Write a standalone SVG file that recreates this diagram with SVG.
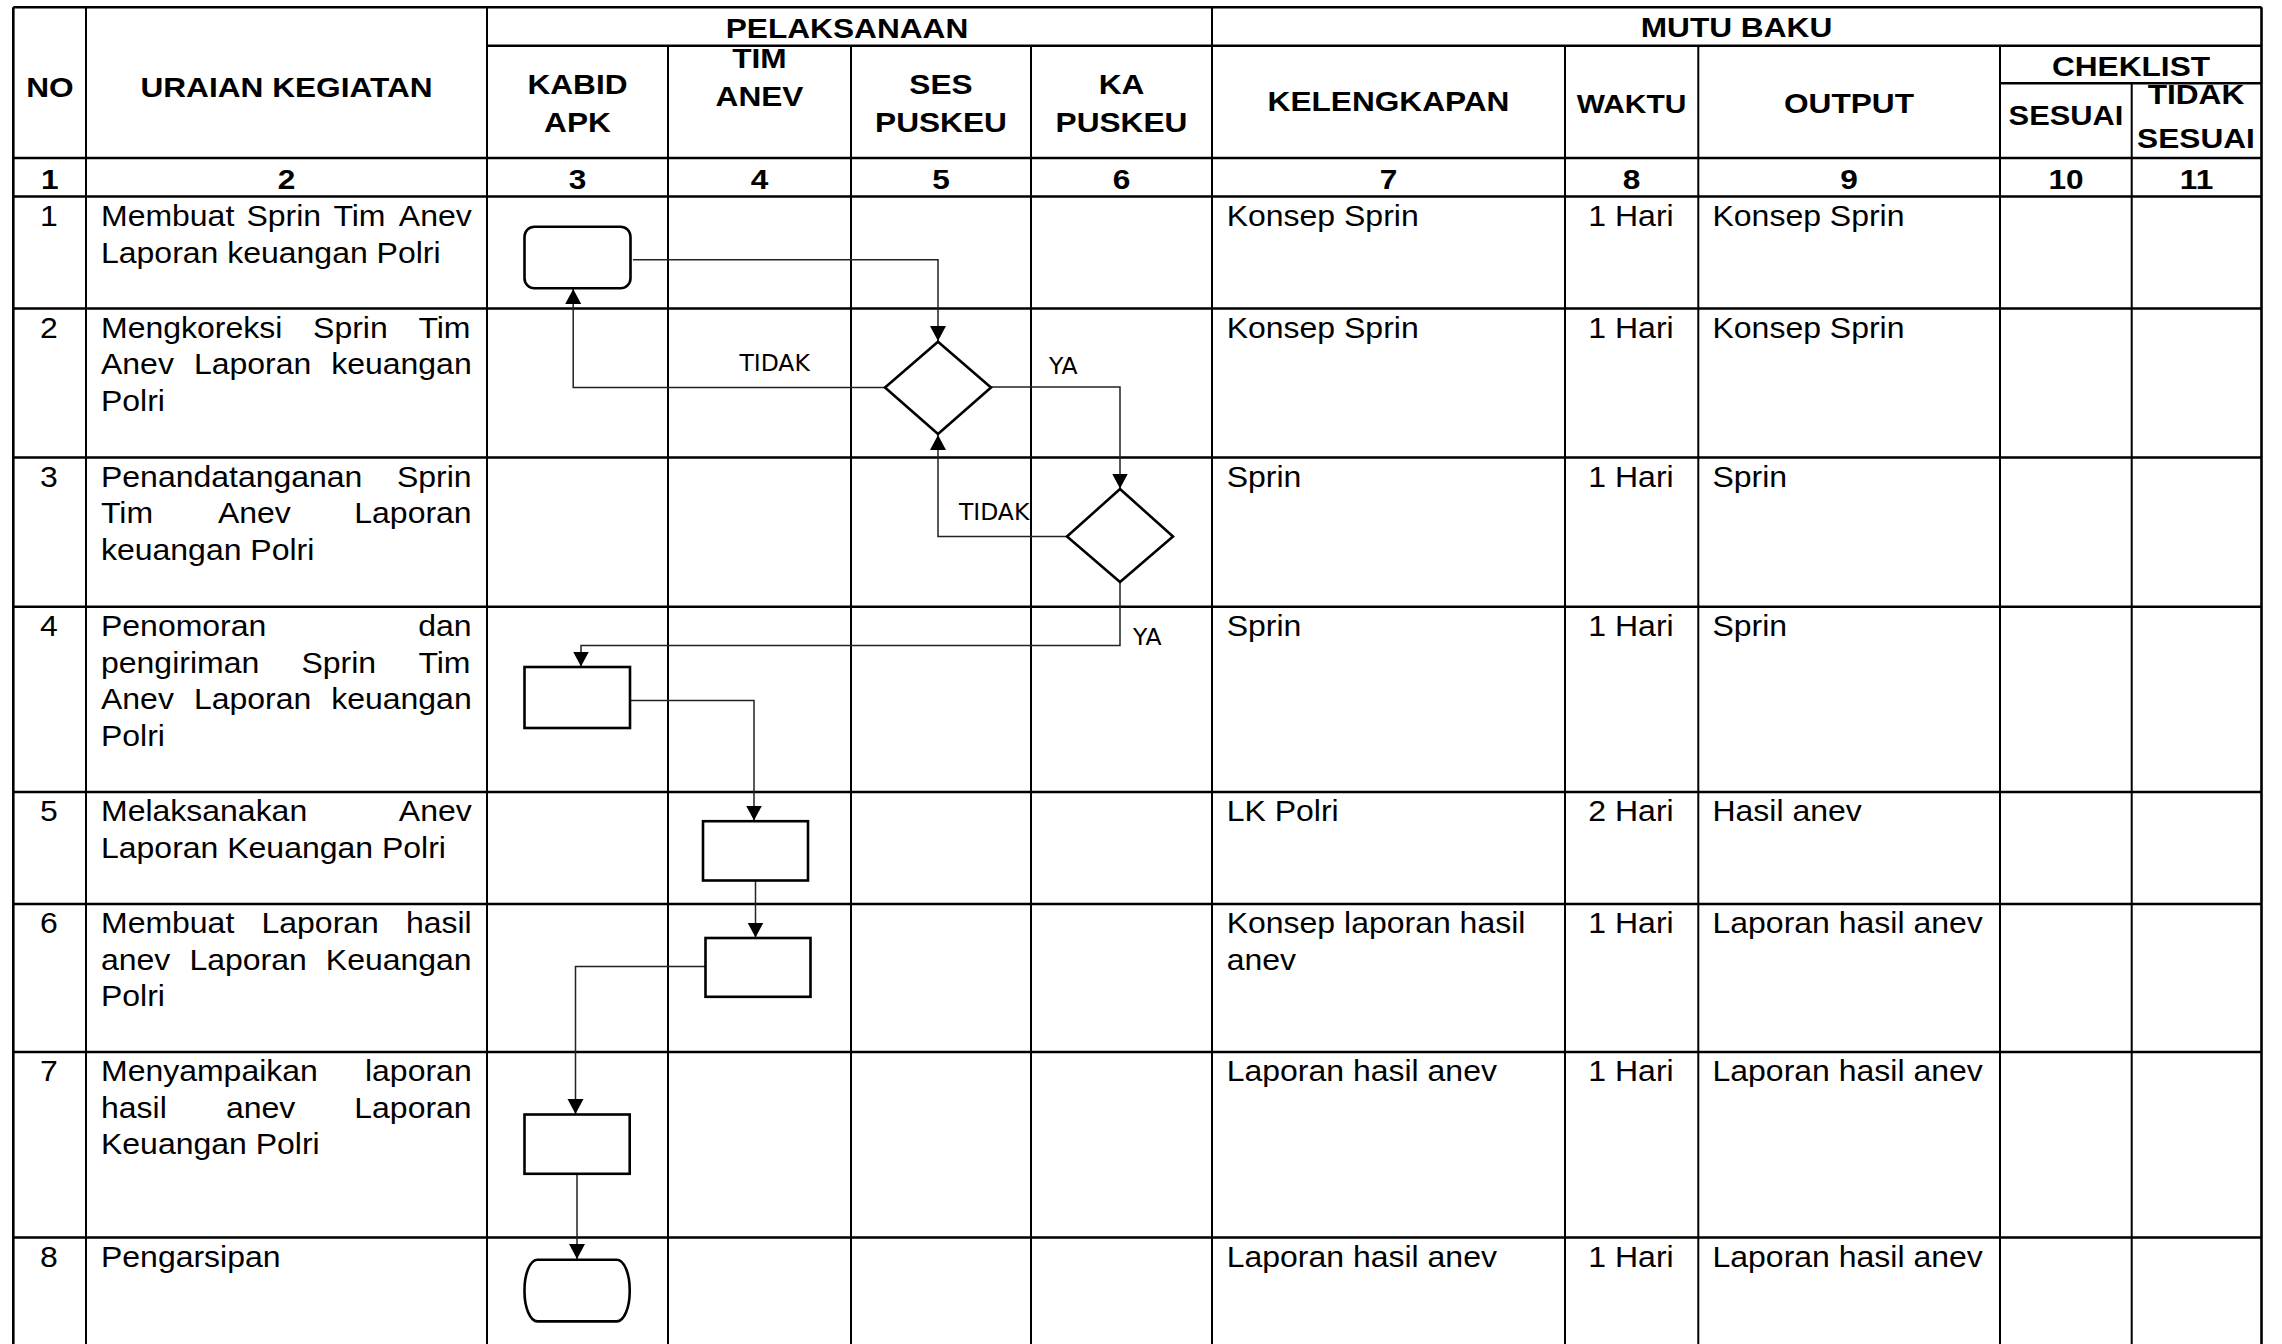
<svg xmlns="http://www.w3.org/2000/svg" width="2282" height="1344" viewBox="0 0 2282 1344">
<style>
.bg{fill:#fff}
.gh{stroke:#000;stroke-width:2.6;fill:none}
.gv{stroke:#000;stroke-width:2;fill:none}
.h{font-family:"Liberation Sans",Arial,sans-serif;font-weight:bold;font-size:28px;fill:#000;text-anchor:middle}
.t{font-family:"Liberation Sans",Arial,sans-serif;font-size:29px;fill:#000}
.c{text-anchor:middle}
.shape{fill:#fff;stroke:#000;stroke-width:2.6}
.conn{fill:none;stroke:#222;stroke-width:1.5}
.lbl{font-family:"DejaVu Sans",sans-serif;font-size:23.5px;fill:#000}
</style>
<defs>
<marker id="arr" markerUnits="userSpaceOnUse" markerWidth="16" markerHeight="17" refX="15" refY="8" orient="auto">
<path d="M0,0 L15,8 L0,16 Z" fill="#000"/>
</marker>
</defs>
<rect class="bg" x="0" y="0" width="2282" height="1344"/>

<g id="grid">
<path class="gh" d="M13.3,7.3H2261.5 M487,45.7H2261.5 M2000,83.3H2261.5 M13.3,158H2261.5 M13.3,196.5H2261.5 M13.3,308.5H2261.5 M13.3,457.5H2261.5 M13.3,606.8H2261.5 M13.3,792H2261.5 M13.3,904H2261.5 M13.3,1052H2261.5 M13.3,1237.5H2261.5"/>
<path class="gh" d="M13.3,7.3V1344 M2261.5,7.3V1344"/>
<path class="gv" d="M86,7.3V1344 M487,7.3V1344 M668,45.7V1344 M851,45.7V1344 M1031,45.7V1344 M1212,7.3V1344 M1565,45.7V1344 M1698.3,45.7V1344 M2000,45.7V1344 M2131.7,83.3V1344"/>
</g>

<g id="header" transform="scale(1.13,1)">
<text class="h" x="44.25" y="96.7">NO</text>
<text class="h" x="253.54" y="96.7">URAIAN KEGIATAN</text>
<text class="h" x="749.56" y="37.7">PELAKSANAAN</text>
<text class="h" x="511.06" y="94">KABID</text>
<text class="h" x="511.06" y="131.7">APK</text>
<text class="h" x="672.12" y="68.5">TIM</text>
<text class="h" x="672.12" y="106">ANEV</text>
<text class="h" x="832.74" y="94">SES</text>
<text class="h" x="832.74" y="131.7">PUSKEU</text>
<text class="h" x="992.48" y="94">KA</text>
<text class="h" x="992.48" y="131.7">PUSKEU</text>
<text class="h" x="1536.73" y="36.7">MUTU BAKU</text>
<text class="h" x="1228.76" y="111">KELENGKAPAN</text>
<text class="h" x="1443.81" y="113" style="font-size:26.5px">WAKTU</text>
<text class="h" x="1636.28" y="113">OUTPUT</text>
<text class="h" x="1885.84" y="76">CHEKLIST</text>
<text class="h" x="1828.32" y="125" style="font-size:27.3px">SESUAI</text>
<text class="h" x="1943.36" y="104">TIDAK</text>
<text class="h" x="1943.36" y="147.7">SESUAI</text>
<text class="h" x="43.98" y="189">1</text>
<text class="h" x="253.54" y="189">2</text>
<text class="h" x="511.06" y="189">3</text>
<text class="h" x="672.12" y="189">4</text>
<text class="h" x="832.74" y="189">5</text>
<text class="h" x="992.48" y="189">6</text>
<text class="h" x="1228.76" y="189">7</text>
<text class="h" x="1443.81" y="189">8</text>
<text class="h" x="1636.28" y="189">9</text>
<text class="h" x="1828.32" y="189">10</text>
<text class="h" x="1943.89" y="189">11</text>
</g>

<g id="rows" transform="scale(1.10345,1)">
<text class="t c" x="44.41" y="226.2">1</text>
<text class="t c" x="44.41" y="338">2</text>
<text class="t c" x="44.41" y="487">3</text>
<text class="t c" x="44.41" y="636.3">4</text>
<text class="t c" x="44.41" y="821.5">5</text>
<text class="t c" x="44.41" y="933.5">6</text>
<text class="t c" x="44.41" y="1081.5">7</text>
<text class="t c" x="44.41" y="1267">8</text>

<text class="t" y="226.2"><tspan x="91.53">Membuat</tspan><tspan x="223.39">Sprin</tspan><tspan x="302.14">Tim</tspan><tspan x="361.41">Anev</tspan></text>
<text class="t" x="91.53" y="262.7">Laporan keuangan Polri</text>

<text class="t" y="338"><tspan x="91.53">Mengkoreksi</tspan><tspan x="283.75">Sprin</tspan><tspan x="379.18">Tim</tspan></text>
<text class="t" y="374.5"><tspan x="91.53">Anev</tspan><tspan x="175.72">Laporan</tspan><tspan x="300.15">keuangan</tspan></text>
<text class="t" x="91.53" y="411">Polri</text>

<text class="t" y="487"><tspan x="91.53">Penandatanganan</tspan><tspan x="359.78">Sprin</tspan></text>
<text class="t" y="523.5"><tspan x="91.53">Tim</tspan><tspan x="197.47">Anev</tspan><tspan x="321.08">Laporan</tspan></text>
<text class="t" x="91.53" y="560">keuangan Polri</text>

<text class="t" y="636.3"><tspan x="91.53">Penomoran</tspan><tspan x="379.08">dan</tspan></text>
<text class="t" y="672.8"><tspan x="91.53">pengiriman</tspan><tspan x="273.23">Sprin</tspan><tspan x="379.18">Tim</tspan></text>
<text class="t" y="709.3"><tspan x="91.53">Anev</tspan><tspan x="175.72">Laporan</tspan><tspan x="300.15">keuangan</tspan></text>
<text class="t" x="91.53" y="745.8">Polri</text>

<text class="t" y="821.5"><tspan x="91.53">Melaksanakan</tspan><tspan x="361.41">Anev</tspan></text>
<text class="t" x="91.53" y="858">Laporan Keuangan Polri</text>

<text class="t" y="933.5"><tspan x="91.53">Membuat</tspan><tspan x="236.98">Laporan</tspan><tspan x="367.85">hasil</tspan></text>
<text class="t" y="970"><tspan x="91.53">anev</tspan><tspan x="171.64">Laporan</tspan><tspan x="295.26">Keuangan</tspan></text>
<text class="t" x="91.53" y="1006.5">Polri</text>

<text class="t" y="1081.5"><tspan x="91.53">Menyampaikan</tspan><tspan x="330.78">laporan</tspan></text>
<text class="t" y="1118"><tspan x="91.53">hasil</tspan><tspan x="204.72">anev</tspan><tspan x="321.08">Laporan</tspan></text>
<text class="t" x="91.53" y="1154.5">Keuangan Polri</text>

<text class="t" x="91.53" y="1267">Pengarsipan</text>

<text class="t" x="1111.7" y="226.2">Konsep Sprin</text>
<text class="t" x="1111.7" y="338">Konsep Sprin</text>
<text class="t" x="1111.7" y="487">Sprin</text>
<text class="t" x="1111.7" y="636.3">Sprin</text>
<text class="t" x="1111.7" y="821.5">LK Polri</text>
<text class="t" x="1111.7" y="933.5">Konsep laporan hasil</text>
<text class="t" x="1111.7" y="970">anev</text>
<text class="t" x="1111.7" y="1081.5">Laporan hasil anev</text>
<text class="t" x="1111.7" y="1267">Laporan hasil anev</text>

<text class="t c" x="1478.09" y="226.2">1 Hari</text>
<text class="t c" x="1478.09" y="338">1 Hari</text>
<text class="t c" x="1478.09" y="487">1 Hari</text>
<text class="t c" x="1478.09" y="636.3">1 Hari</text>
<text class="t c" x="1478.09" y="821.5">2 Hari</text>
<text class="t c" x="1478.09" y="933.5">1 Hari</text>
<text class="t c" x="1478.09" y="1081.5">1 Hari</text>
<text class="t c" x="1478.09" y="1267">1 Hari</text>

<text class="t" x="1551.95" y="226.2">Konsep Sprin</text>
<text class="t" x="1551.95" y="338">Konsep Sprin</text>
<text class="t" x="1551.95" y="487">Sprin</text>
<text class="t" x="1551.95" y="636.3">Sprin</text>
<text class="t" x="1551.95" y="821.5">Hasil anev</text>
<text class="t" x="1551.95" y="933.5">Laporan hasil anev</text>
<text class="t" x="1551.95" y="1081.5">Laporan hasil anev</text>
<text class="t" x="1551.95" y="1267">Laporan hasil anev</text>
</g>

<g id="connectors">
<path class="conn" d="M633,259.7H938V341" marker-end="url(#arr)"/>
<path class="conn" d="M885,387.5H573.2V289" marker-end="url(#arr)"/>
<path class="conn" d="M991,387H1120V488.5" marker-end="url(#arr)"/>
<path class="conn" d="M1067,536.5H938V435" marker-end="url(#arr)"/>
<path class="conn" d="M1120,582V645.5H581V666.5" marker-end="url(#arr)"/>
<path class="conn" d="M630,700.6H754V820.5" marker-end="url(#arr)"/>
<path class="conn" d="M755.5,880.5V937.5" marker-end="url(#arr)"/>
<path class="conn" d="M705.5,966.4H575.5V1114" marker-end="url(#arr)"/>
<path class="conn" d="M577,1174V1259" marker-end="url(#arr)"/>
<text class="lbl" x="739.4" y="370.7">TIDAK</text>
<text class="lbl" x="1049" y="374">YA</text>
<text class="lbl" x="958.9" y="520">TIDAK</text>
<text class="lbl" x="1133" y="645">YA</text>
</g>

<g id="n1"><rect class="shape" x="524.5" y="226.7" width="106" height="61.6" rx="10" ry="10"/></g>
<g id="d1"><path class="shape" d="M938,341.7 L991,387.5 L938,434 L885,387.5 Z"/></g>
<g id="d2"><path class="shape" d="M1120,489 L1173,536.5 L1120,582 L1067,536.5 Z"/></g>
<g id="n4"><rect class="shape" x="524.5" y="667" width="105.5" height="61"/></g>
<g id="n5"><rect class="shape" x="703" y="821.2" width="105" height="59.3"/></g>
<g id="n6"><rect class="shape" x="705.5" y="938" width="105" height="58.8"/></g>
<g id="n7"><rect class="shape" x="524.5" y="1114.5" width="105.2" height="59.3"/></g>
<g id="n8"><rect class="shape" x="524.5" y="1259.7" width="105.2" height="61.7" rx="13" ry="30"/></g>
</svg>
